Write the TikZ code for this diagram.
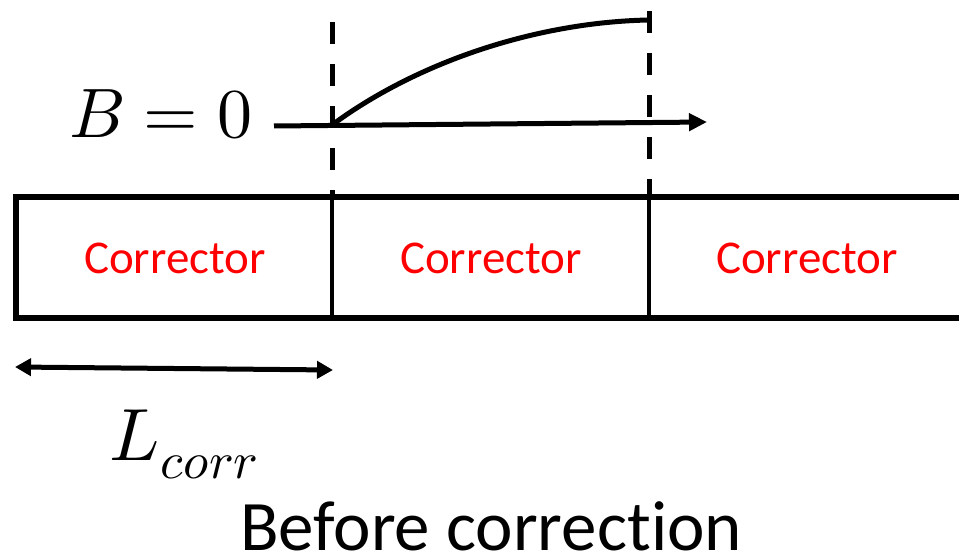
\documentclass[tikz,border=0pt]{standalone}
\usepackage{fontspec}
\usepackage{unicode-math}
\setmathfont{Latin Modern Math}
\newfontfamily\calfont[Ligatures=NoCommon]{Carlito}
\usetikzlibrary{arrows.meta}
\begin{document}
\begin{tikzpicture}[x=1pt,y=-1pt,
  thick line/.style={line width=5.5pt},
  divider/.style={line width=4.5pt},
  dashline/.style={line width=5pt,dash pattern=on 22pt off 20pt},
  corr/.style={text=red,font=\calfont\fontsize{47}{50}\selectfont,anchor=base,inner sep=0pt},
  arrowtip/.style={-{Triangle[length=18pt,width=17pt]}},
  dblarrow/.style={{Triangle[length=16pt,width=17pt]}-{Triangle[length=16pt,width=17pt]}}]
\useasboundingbox (0,0) rectangle (959,556);
% box outline
\coordinate (tl) at (16,197);
\coordinate (bl) at (16,318);
\coordinate (tr) at (959,197);
\coordinate (br) at (959,318);
\coordinate (d1t) at (332,197);
\coordinate (d1b) at (332,318);
\coordinate (d2t) at (649,197);
\coordinate (d2b) at (649,318);
\draw[thick line] (tr) -- (tl) -- (bl) -- (br);
\draw[divider] (d1t) -- (d1b);
\draw[divider] (d2t) -- (d2b);
% labels in boxes
\node[corr] (c1) at (175,273) {Corrector};
\node[corr] (c2) at (491,273) {Corrector};
\node[corr] (c3) at (807,273) {Corrector};
% dashed lines
\coordinate (v1top) at (332,22);
\coordinate (v2top) at (649,11);
\draw[dashline] (v1top) -- (d1t);
\draw[dashline] (v2top) -- (d2t);
% curve
\coordinate (cs) at (332,125);
\coordinate (ce) at (649,20);
\draw[line width=5pt] (cs) .. controls (420,60) and (540,22) .. (ce);
% B = 0 and arrow
\node[anchor=base,inner sep=0pt,font=\fontsize{70}{72}\selectfont] (b0) at (161,138) {$B=0$};
\coordinate (as) at (274,126);
\coordinate (ae) at (707,122);
\draw[line width=5pt,arrowtip] (as) -- (ae);
% length arrow
\coordinate (ls) at (15,367);
\coordinate (le) at (333,370);
\draw[line width=5pt,dblarrow] (ls) -- (le);
\node[anchor=base,inner sep=0pt,font=\fontsize{74}{76}\selectfont] (lc) at (184,460) {$L_{corr}$};
% caption
\node[anchor=base,inner sep=0pt,font=\calfont\fontsize{71}{74}\selectfont] (cap) at (491,550) {Before correction};
\end{tikzpicture}
\end{document}
